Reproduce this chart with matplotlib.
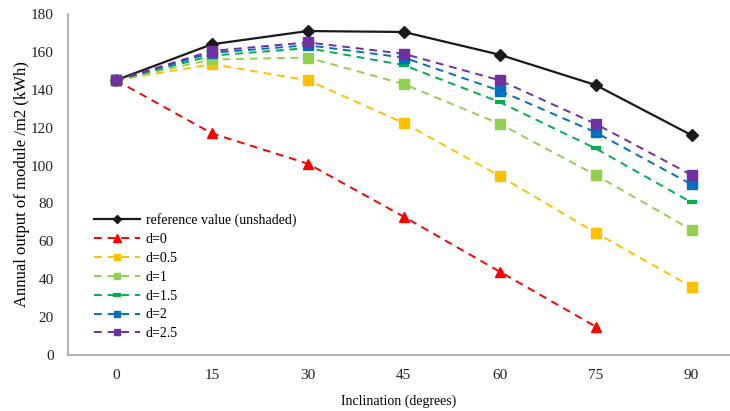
import matplotlib
matplotlib.use("Agg")
import matplotlib.pyplot as plt

inclination = ["0", "15", "30", "45", "60", "75", "90"]
reference = [145, 164, 171, 170.5, 158.5, 142.5, 116]
d0 = [145, 117, 101, 73, 44, 15]
d05 = [145, 153.5, 145, 122.5, 94.5, 64.5, 36]
d1 = [145, 156, 157, 143, 122, 95, 66]
d15 = [145, 158, 162, 153, 133.5, 109, 80.5]
d2 = [145, 159.5, 163.5, 157, 139.5, 117.5, 90]
d25 = [145, 160.5, 165, 159, 145, 122, 95]

plt.rcParams['font.family'] = ['Liberation Serif', 'DejaVu Serif']

fig = plt.figure(figsize=(7.3, 4.11), dpi=100)
ax = fig.add_axes([0.093, 0.1363, 0.907, 0.8297])

x = list(range(len(inclination)))
dash = (0, (4, 3))
ax.plot(x, reference, color='#1a1a1a', lw=1.6, marker='D', ms=6, label='reference value (unshaded)')
ax.plot(x[:len(d0)], d0, color='#FF0000', lw=1.4, ls=dash, marker='^', ms=7, label='d=0')
ax.plot(x, d05, color='#FFC000', lw=1.4, ls=dash, marker='s', ms=6.5, label='d=0.5')
ax.plot(x, d1, color='#92D050', lw=1.4, ls=dash, marker='s', ms=6.5, label='d=1')
ax.plot(x, d15, color='#00B050', lw=1.4, ls=dash, marker='_', ms=7, mew=3, label='d=1.5')
ax.plot(x, d2, color='#0070C0', lw=1.4, ls=dash, marker='s', ms=6.5, label='d=2')
ax.plot(x, d25, color='#7030A0', lw=1.4, ls=dash, marker='s', ms=6.5, label='d=2.5')

ax.set_xlim(-0.5, 6.4)
ax.set_ylim(0, 180)
ax.set_yticks(range(0, 181, 20))
ax.set_xticks(x)
ax.set_xticklabels(inclination)
ax.tick_params(length=0, labelsize=11, colors='#222222')
ax.tick_params(axis='x', pad=10)
ax.tick_params(axis='y', pad=10)
for s in ['top', 'right']:
    ax.spines[s].set_visible(False)
for s in ['left', 'bottom']:
    ax.spines[s].set_color('#a6a6a6')
    ax.spines[s].set_linewidth(1.2)

ax.set_xlabel('Inclination (degrees)', fontsize=10, labelpad=9)
ax.set_ylabel('Annual output of module /m2 (kWh)', fontsize=12, labelpad=1)

leg = ax.legend(loc='upper left', bbox_to_anchor=(0.021, 0.452), frameon=False,
                fontsize=10, handlelength=3.3, labelspacing=0.42, handletextpad=0.4,
                markerscale=0.75)

fig.savefig('out.png', dpi=100)
